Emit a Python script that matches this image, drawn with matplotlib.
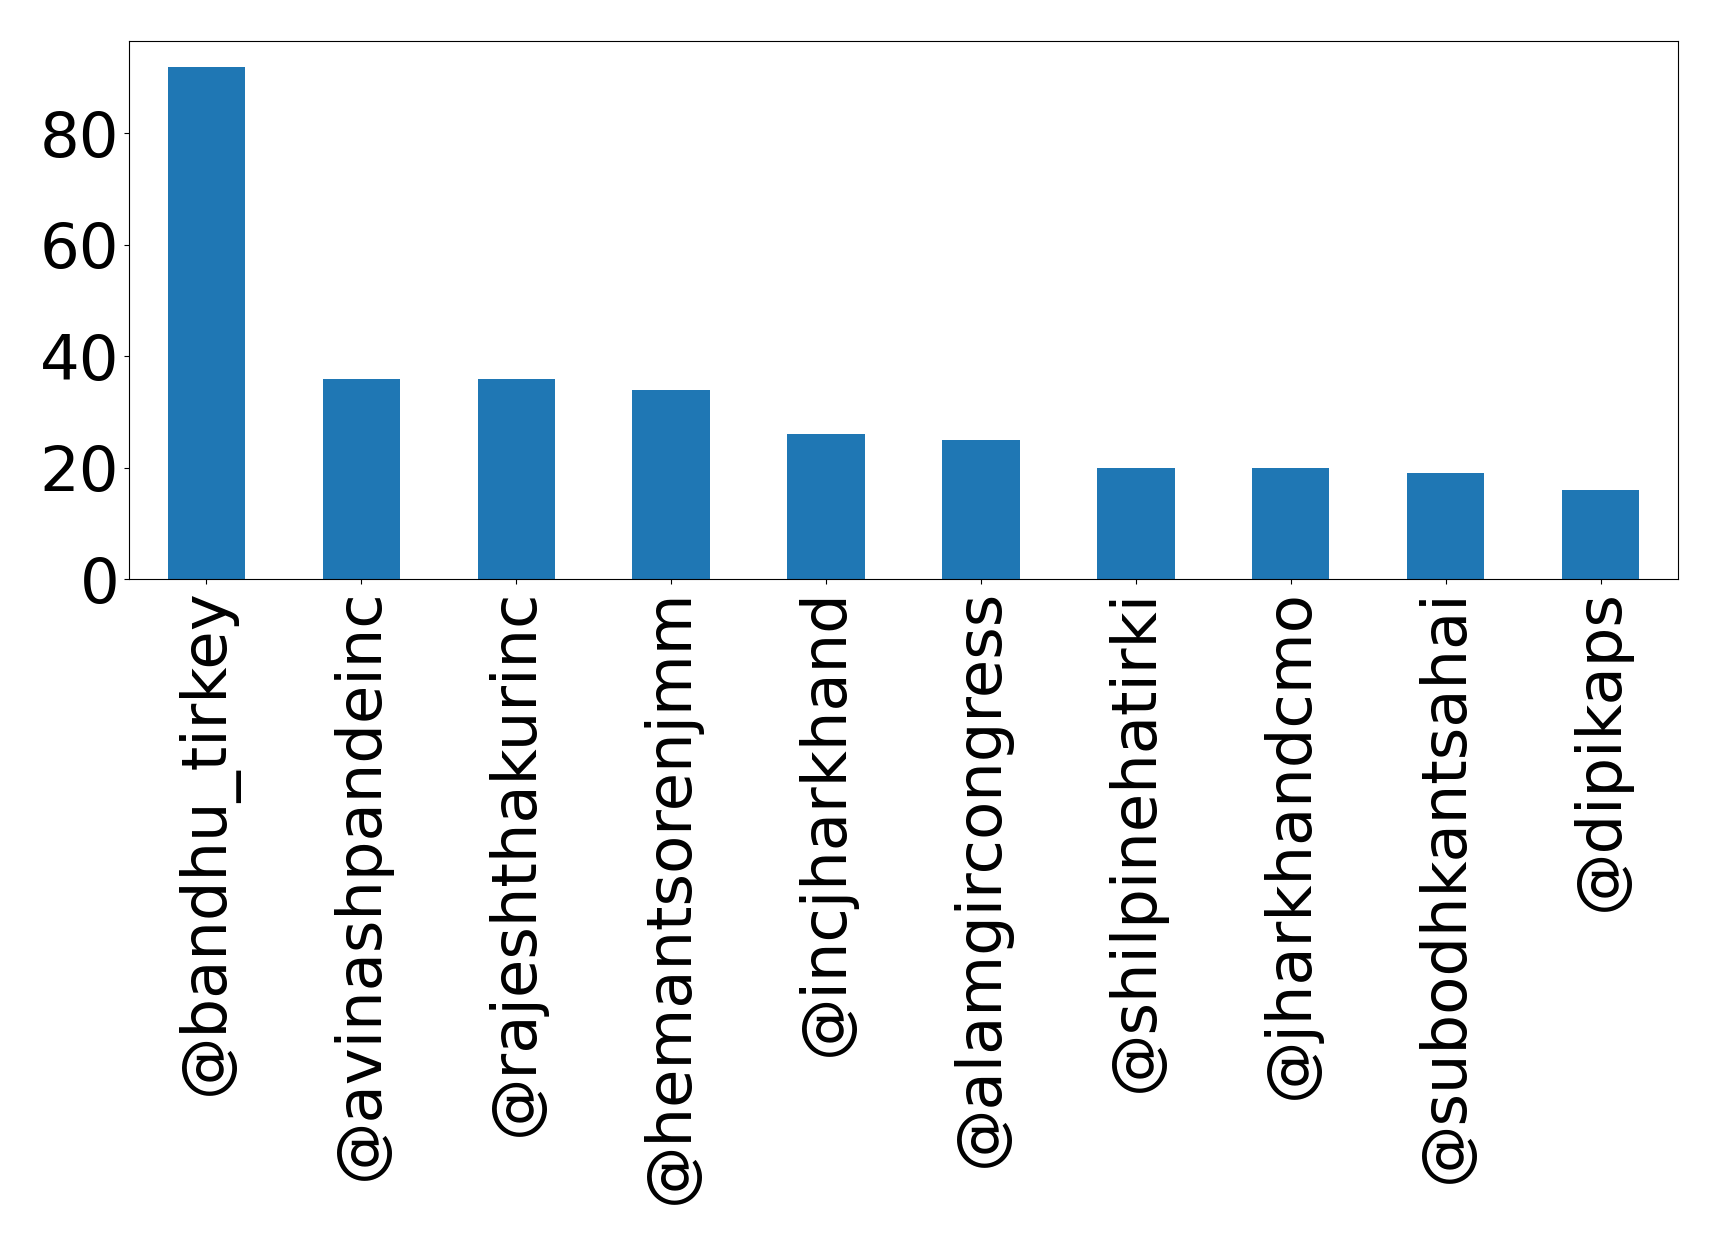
import matplotlib
matplotlib.use("Agg")
import matplotlib.pyplot as plt
import numpy as np

handles = ["@bandhu_tirkey", "@avinashpandeinc", "@rajeshthakurinc", "@hemantsorenjmm",
           "@incjharkhand", "@alamgircongress", "@shilpinehatirki", "@jharkhandcmo",
           "@subodhkantsahai", "@dipikaps"]
counts = [92, 36, 36, 34, 26, 25, 20, 20, 19, 16]

fig = plt.figure(figsize=(17.19, 12.44), dpi=100)
ax = fig.add_axes([129/1719, 1 - 579/1244, (1678-129)/1719, (579-41)/1244])
x = np.arange(len(handles))
ax.bar(x, counts, width=0.5, color="#1f77b4")
ax.set_xlim(-0.5, len(handles) - 0.5)
ax.set_xticks(x)
ax.set_xticklabels(handles, rotation=90, fontsize=45)
ax.tick_params(axis="y", labelsize=45)
ax.set_yticks([0, 20, 40, 60, 80])
fig.savefig("out.png", dpi=100)
